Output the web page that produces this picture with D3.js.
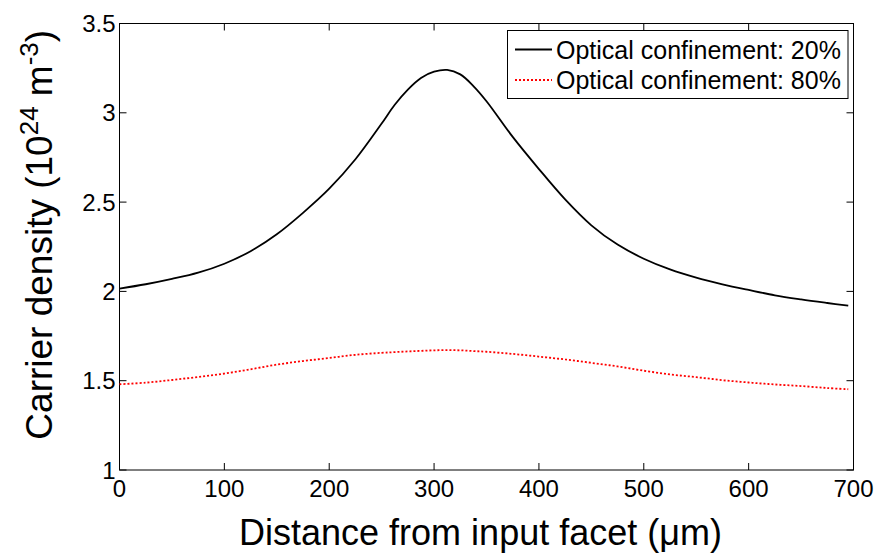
<!DOCTYPE html>
<html><head><meta charset="utf-8">
<script src="https://cdn.jsdelivr.net/npm/d3@7"></script>
<style>
html,body{margin:0;padding:0;background:#fff;}
svg{display:block;font-family:Arial,"Liberation Sans",sans-serif;}
</style></head>
<body><svg id="chart" width="878" height="554"></svg>
<script>
const distance = [0,25,50,75,100,125,150,175,200,225,250,262.5,275,287.5,300,312.5,325,337.5,350,375,400,425,450,475,500,525,550,575,600,625,650,675,695];
const conf20 = [2.016,2.040,2.070,2.105,2.155,2.225,2.320,2.440,2.575,2.740,2.940,3.045,3.130,3.195,3.230,3.240,3.215,3.150,3.065,2.865,2.685,2.515,2.370,2.262,2.183,2.123,2.077,2.040,2.008,1.978,1.955,1.935,1.920];
const conf80 = [1.480,1.489,1.504,1.521,1.540,1.564,1.590,1.610,1.627,1.645,1.656,1.660,1.664,1.667,1.670,1.671,1.670,1.666,1.662,1.650,1.635,1.619,1.600,1.580,1.556,1.535,1.520,1.503,1.490,1.479,1.470,1.459,1.452];
const xTicks = [0,100,200,300,400,500,600,700];
const yTicks = [1,1.5,2,2.5,3,3.5];
const seriesNames = ["Optical confinement: 20%","Optical confinement: 80%"];

const svg = d3.select("#chart");
const L=119.5, R=853.5, T=23.5, B=470;
const x = d3.scaleLinear().domain([0,700]).range([L,R]);
const y = d3.scaleLinear().domain([1,3.5]).range([B,T]);

const tl = 7;
const g = svg.append("g");
xTicks.forEach(v=>{
  g.append("line").attr("x1",x(v)).attr("x2",x(v)).attr("y1",B).attr("y2",B-tl).attr("stroke","#000");
  g.append("line").attr("x1",x(v)).attr("x2",x(v)).attr("y1",T).attr("y2",T+tl).attr("stroke","#000");
  g.append("text").attr("x",x(v)).attr("y",B+27).attr("text-anchor","middle").attr("font-size",24).text(v);
});
yTicks.forEach(v=>{
  g.append("line").attr("x1",L).attr("x2",L+tl).attr("y1",y(v)).attr("y2",y(v)).attr("stroke","#000");
  g.append("line").attr("x1",R).attr("x2",R-tl).attr("y1",y(v)).attr("y2",y(v)).attr("stroke","#000");
  g.append("text").attr("x",L-4).attr("y",y(v)).attr("dy","0.36em").attr("text-anchor","end").attr("font-size",24).text(v);
});
g.append("rect").attr("x",L).attr("y",T).attr("width",R-L).attr("height",B-T).attr("fill","none").attr("stroke","#000").attr("stroke-width",1);

const line = d3.line().x((d,i)=>x(distance[i])).y(d=>y(d)).curve(d3.curveCatmullRom.alpha(0.5));
svg.append("path").datum(conf20).attr("d",line).attr("fill","none").attr("stroke","#000").attr("stroke-width",1.8);
svg.append("path").datum(conf80).attr("d",line).attr("fill","none").attr("stroke","#ff0000").attr("stroke-width",1.8).attr("stroke-dasharray","2,2");

const lg = svg.append("g");
lg.append("rect").attr("x",507.5).attr("y",30.5).attr("width",340.5).attr("height",68).attr("fill","#fff").attr("stroke","#000");
const rows=[{y:49.5,c:"#000",d:null},{y:80,c:"#ff0000",d:"2,2"}];
rows.forEach((r,i)=>{
  const ln = lg.append("line").attr("x1",515).attr("x2",552).attr("y1",r.y).attr("y2",r.y).attr("stroke",r.c).attr("stroke-width",1.8);
  if(r.d) ln.attr("stroke-dasharray",r.d);
  lg.append("text").attr("x",556).attr("y",r.y).attr("dy","0.36em").attr("font-size",25).text(seriesNames[i]);
});

svg.append("text").attr("x",(L+R)/2-6).attr("y",545).attr("text-anchor","middle").attr("font-size",36).text("Distance from input facet (\u03bcm)");
const yl = svg.append("text").attr("transform",`translate(52,${(T+B)/2-12}) rotate(-90)`).attr("text-anchor","middle").attr("font-size",37);
yl.append("tspan").text("Carrier density (10");
yl.append("tspan").attr("font-size",26).attr("dy",-14).text("24");
yl.append("tspan").attr("dy",14).text(" m");
yl.append("tspan").attr("font-size",26).attr("dy",-14).text("-3");
yl.append("tspan").attr("dy",14).text(")");
</script></body></html>
